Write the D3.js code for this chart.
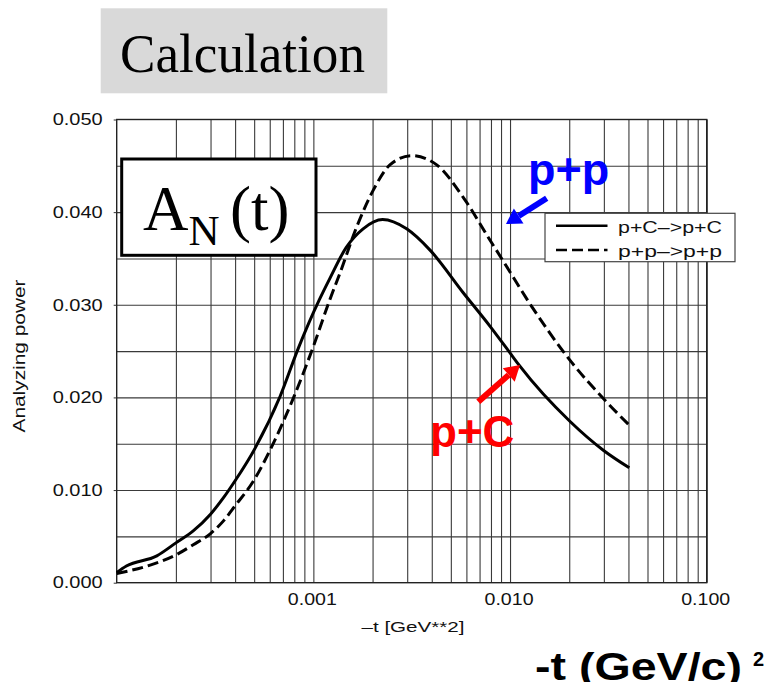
<!DOCTYPE html>
<html>
<head>
<meta charset="utf-8">
<script src="https://cdn.jsdelivr.net/npm/d3@7"></script>
<style>
  body { margin: 0; background: #fff; }
  svg { display: block; }
</style>
</head>
<body>
<svg id="chart" width="781" height="682"></svg>
<script>
// data
// p+C -> p+C (solid)
var tPC = [1e-4, 1.12e-4, 1.6e-4, 2e-4, 2.45e-4, 3e-4, 3.5e-4, 4e-4, 5.05e-4, 6.77e-4, 8.38e-4,
  1.07e-3, 1.21e-3, 1.47e-3, 1.79e-3, 2.25e-3, 2.98e-3, 3.92e-3, 5.78e-3, 7.9e-3, 1.0e-2,
  1.12e-2, 2.02e-2, 2.98e-2, 4.04e-2];
var aPC = [0.0011, 0.0018, 0.0029, 0.0043, 0.0056, 0.0074, 0.0092, 0.0110, 0.0145, 0.0201, 0.0253,
  0.0305, 0.0328, 0.0362, 0.0382, 0.0392, 0.0382, 0.0359, 0.0313, 0.0277, 0.0248,
  0.0234, 0.0174, 0.0143, 0.0124];

// p+p -> p+p (dashed)
var tPP = [1e-4, 1.48e-4, 2e-4, 2.45e-4, 3e-4, 3.5e-4, 4e-4, 5e-4, 6.02e-4, 7.9e-4, 1.0e-3,
  1.21e-3, 1.37e-3, 1.66e-3, 2.02e-3, 2.45e-3, 3.16e-3, 4.24e-3, 5.78e-3, 7.9e-3, 9.06e-3,
  1.29e-2, 2.02e-2, 3.1e-2, 4.04e-2];
var aPP = [0.0010, 0.0019, 0.0030, 0.0041, 0.0053, 0.0067, 0.0083, 0.0111, 0.0143, 0.0199, 0.0255,
  0.0305, 0.0335, 0.0384, 0.0424, 0.0451, 0.0461, 0.0451, 0.0416, 0.0370, 0.0350,
  0.0298, 0.0240, 0.0195, 0.0170];

// axis stuff
var xTickVals = [0.001, 0.01, 0.1];
var yTickVals = [0, 0.01, 0.02, 0.03, 0.04, 0.05];
var yGridVals = [0.005, 0.01, 0.015, 0.02, 0.025, 0.03, 0.035, 0.04, 0.045];
var xGridVals = [];
[1e-4, 1e-3, 1e-2].forEach(function(dec) {
  for (var m = 2; m <= 10; m++) xGridVals.push(m * dec);
});
var legendLabels = ["p+C\u2013>p+C", "p+p\u2013>p+p"];

var svg = d3.select("#chart");
var sans = "'Liberation Sans', Arial, sans-serif";
var serif = "'Liberation Serif', 'Times New Roman', serif";

var x = d3.scaleLog().domain([1e-4, 1e-1]).range([116.7, 706.7]);
var y = d3.scaleLinear().domain([0, 0.05]).range([582.7, 119.5]);
var plotW = x.range()[1] - x.range()[0];
var plotH = y(0) - y(0.05);

// "Calculation" title box
svg.append("rect")
  .attr("x", 100.7).attr("y", 8.3).attr("width", 286.6).attr("height", 85)
  .attr("fill", "#d9d9d9");
svg.append("text")
  .attr("x", 120).attr("y", 71.5)
  .attr("font-family", serif).attr("font-size", 55)
  .attr("textLength", 245).attr("lengthAdjust", "spacingAndGlyphs")
  .text("Calculation");

// grid
var gx = svg.append("g")
  .attr("transform", "translate(0," + y(0) + ")")
  .call(d3.axisBottom(x).tickValues(xGridVals).tickSize(-plotH).tickFormat(""));
gx.select(".domain").remove();
gx.selectAll("line").attr("stroke", "#3a3a3a").attr("stroke-width", 1.1);

var gy = svg.append("g")
  .attr("transform", "translate(" + x.range()[0] + ",0)")
  .call(d3.axisLeft(y).tickValues(yGridVals).tickSize(-plotW).tickFormat(""));
gy.select(".domain").remove();
gy.selectAll("line").attr("stroke", "#3a3a3a").attr("stroke-width", 1.1);

// frame
svg.append("rect")
  .attr("x", x.range()[0]).attr("y", y(0.05))
  .attr("width", plotW).attr("height", plotH)
  .attr("fill", "none").attr("stroke", "#222").attr("stroke-width", 1.4);

// y tick labels
var yAx = svg.append("g")
  .attr("transform", "translate(" + x.range()[0] + ",0)")
  .call(d3.axisLeft(y).tickValues(yTickVals).tickSize(3).tickPadding(11).tickFormat(d3.format(".3f")));
yAx.select(".domain").remove();
yAx.selectAll("line").attr("stroke", "#333");
yAx.selectAll("text")
  .attr("font-family", sans).attr("font-size", 16.5).attr("fill", "#111")
  .attr("textLength", 50).attr("lengthAdjust", "spacingAndGlyphs");

// x tick labels
var xAx = svg.append("g")
  .attr("transform", "translate(0," + y(0) + ")")
  .call(d3.axisBottom(x).tickValues(xTickVals).tickSize(0).tickPadding(11).tickFormat(d3.format(".3f")));
xAx.select(".domain").remove();
xAx.selectAll("text")
  .attr("font-family", sans).attr("font-size", 16.5).attr("fill", "#111")
  .attr("textLength", 49).attr("lengthAdjust", "spacingAndGlyphs")
  .attr("dx", -1.5);

// axis titles
svg.append("text")
  .attr("x", 413).attr("y", 631.5).attr("text-anchor", "middle")
  .attr("font-family", sans).attr("font-size", 15.5).attr("fill", "#111")
  .attr("textLength", 103).attr("lengthAdjust", "spacingAndGlyphs")
  .text("\u2013t [GeV**2]");
svg.append("text")
  .attr("transform", "translate(25,356) rotate(-90)")
  .attr("text-anchor", "middle")
  .attr("font-family", sans).attr("font-size", 16).attr("fill", "#111")
  .attr("textLength", 153).attr("lengthAdjust", "spacingAndGlyphs")
  .text("Analyzing power");

// curves
var line = d3.line()
  .x(function(d) { return x(d[0]); })
  .y(function(d) { return y(d[1]); })
  .curve(d3.curveMonotoneX);

svg.append("path")
  .datum(d3.zip(tPC, aPC))
  .attr("d", line)
  .attr("fill", "none").attr("stroke", "#000").attr("stroke-width", 3);

svg.append("path")
  .datum(d3.zip(tPP, aPP))
  .attr("d", line)
  .attr("fill", "none").attr("stroke", "#000").attr("stroke-width", 3)
  .attr("stroke-dasharray", "11,5");

// legend
var leg = svg.append("g");
leg.append("rect")
  .attr("x", 545).attr("y", 213.3).attr("width", 190).attr("height", 48.4)
  .attr("fill", "#fff").attr("stroke", "#444").attr("stroke-width", 1.2);
legendLabels.forEach(function(lab, i) {
  var ly = [225.7, 250][i];
  leg.append("line")
    .attr("x1", 556).attr("x2", 607.5).attr("y1", ly).attr("y2", ly)
    .attr("stroke", "#000").attr("stroke-width", 2.6)
    .attr("stroke-dasharray", i == 1 ? "11,5" : null);
  leg.append("text")
    .attr("x", 618).attr("y", ly + 7)
    .attr("font-family", sans).attr("font-size", 17).attr("fill", "#111")
    .attr("textLength", 104).attr("lengthAdjust", "spacingAndGlyphs")
    .text(lab);
});

// A_N(t) box
svg.append("rect")
  .attr("x", 121.7).attr("y", 159).attr("width", 194.3).attr("height", 96.3)
  .attr("fill", "#fff").attr("stroke", "#000").attr("stroke-width", 3);
var an = svg.append("text")
  .attr("x", 143).attr("y", 230)
  .attr("font-family", serif).attr("font-size", 63);
an.append("tspan").text("A");
an.append("tspan").attr("font-size", 43).attr("dy", 15).text("N");
an.append("tspan").attr("x", 230).attr("dy", -15).text("(t)");

// arrows, drawn by hand as shaft + triangle head
function arrow(x1, y1, x2, y2, color) {
  var ang = Math.atan2(y2 - y1, x2 - x1);
  var hl = 15, hw = 9;
  var bx = x2 - hl * Math.cos(ang), by = y2 - hl * Math.sin(ang);
  svg.append("line")
    .attr("x1", x1).attr("y1", y1).attr("x2", bx).attr("y2", by)
    .attr("stroke", color).attr("stroke-width", 6);
  var px = -Math.sin(ang) * hw, py = Math.cos(ang) * hw;
  svg.append("path")
    .attr("d", "M" + x2 + "," + y2 + "L" + (bx + px) + "," + (by + py) + "L" + (bx - px) + "," + (by - py) + "Z")
    .attr("fill", color);
}
arrow(546.7, 198.3, 506, 224, "#0000ff");
arrow(478.3, 401.7, 520, 365, "#ff0000");

svg.append("text")
  .attr("x", 528).attr("y", 185)
  .attr("font-family", sans).attr("font-weight", "bold").attr("font-size", 45)
  .attr("fill", "#0000ff")
  .text("p+p");
svg.append("text")
  .attr("x", 430).attr("y", 446.5)
  .attr("font-family", sans).attr("font-weight", "bold").attr("font-size", 44)
  .attr("fill", "#ff0000")
  .text("p+C");

// big axis label bottom right (cut by the bottom edge, as in the slide)
svg.append("text")
  .attr("x", 535).attr("y", 680)
  .attr("font-family", sans).attr("font-weight", "bold").attr("font-size", 38)
  .attr("textLength", 207).attr("lengthAdjust", "spacingAndGlyphs")
  .text("-t (GeV/c)");
svg.append("text")
  .attr("x", 753).attr("y", 666)
  .attr("font-family", sans).attr("font-weight", "bold").attr("font-size", 20)
  .text("2");
</script>
</body>
</html>
